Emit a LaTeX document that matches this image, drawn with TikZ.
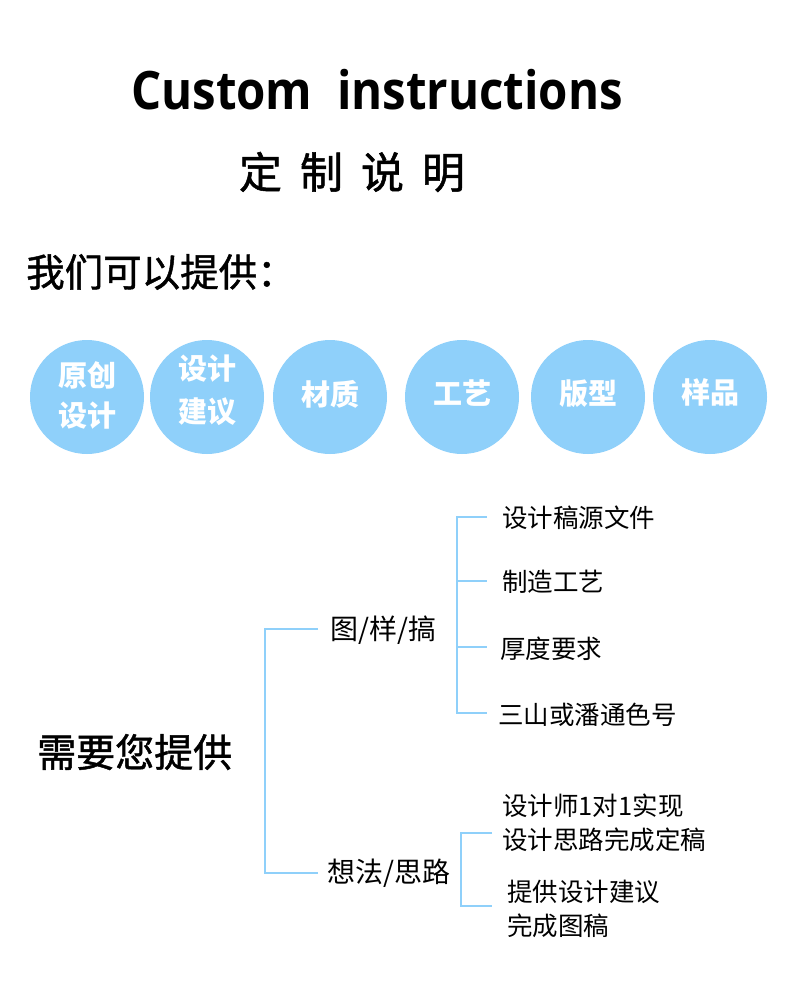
\documentclass[tikz,border=0pt]{standalone}
\usepackage{fontspec}
\setmainfont{Noto Sans CJK SC}
\newfontfamily\cjk{Noto Sans CJK SC}
\newfontfamily\cjkmed[FakeBold=1.2]{Noto Sans CJK SC}
\newfontfamily\latinbold{Open Sans}
\definecolor{lblue}{RGB}{143,208,250}
\begin{document}
\begin{tikzpicture}[x=1pt,y=-1pt,
  bubble/.style={circle,fill=lblue,minimum size=114pt,inner sep=0pt,text=white,font=\cjk\bfseries\fontsize{29}{36}\selectfont,align=center},
  leaf/.style={anchor=west,inner sep=0pt,font=\cjk\fontsize{25.5}{34}\selectfont,align=left},
  mid/.style={anchor=west,inner sep=0pt,font=\cjk\fontsize{28}{32}\selectfont},
  branch/.style={draw=lblue,line width=2.2pt}]
\useasboundingbox[fill=white] (0,0) rectangle (790,1000);
\node[font=\latinbold\bfseries\fontsize{53}{60}\selectfont,inner sep=0pt] (title) at (377,90) {\scalebox{0.894}[1]{Custom\ \ instructions}};
\node[font=\cjkmed\fontsize{43}{50}\selectfont,inner sep=0pt] (sub) at (352,172) {定\hspace{18pt}制\hspace{18pt}说\hspace{18pt}明};
\node[font=\cjkmed\fontsize{38.5}{40}\selectfont,anchor=west,inner sep=0pt] (we) at (26,272) {我们可以提供：};
\node[bubble] (b1) at (87,397) {\raisebox{6pt}{\shortstack{原创\\[10pt]设计}}};
\node[bubble] (b2) at (207,397) {\raisebox{16pt}{\shortstack{设计\\[12pt]建议}}};
\node[bubble] (b3) at (330,397) {\raisebox{9pt}{材质}};
\node[bubble] (b4) at (462,397) {\raisebox{9pt}{工艺}};
\node[bubble] (b5) at (588,397) {\raisebox{9pt}{版型}};
\node[bubble] (b6) at (710,397) {\raisebox{11pt}{样品}};
\node[font=\cjkmed\fontsize{39}{44}\selectfont,anchor=west,inner sep=0pt] (need) at (37,752) {需要您提供};
\node[mid] (m1) at (330,630) {图/样/搞};
\node[mid] (m2) at (327,873) {想法/思路};
\node[leaf] (l1) at (502,518) {设计稿源文件};
\node[leaf] (l2) at (502,582) {制造工艺};
\node[leaf] (l3) at (500,649) {厚度要求};
\node[leaf] (l4) at (498,715) {三山或潘通色号};
\node[leaf] (l5) at (502,823) {设计师1对1实现\\设计思路完成定稿};
\node[leaf] (l6) at (507,909) {提供设计建议\\完成图稿};
\coordinate (t1) at (318,629);
\coordinate (t2) at (318,873);
\draw[branch] (t1) -- (265,629) -- (265,873) -- (t2);
\draw[branch] (487,517) -| (457,713) -- (487,713);
\draw[branch] (457,581) -- (487,581);
\draw[branch] (457,647) -- (487,647);
\draw[branch] (492,833) -| (461,906) -- (492,906);
\end{tikzpicture}
\end{document}
